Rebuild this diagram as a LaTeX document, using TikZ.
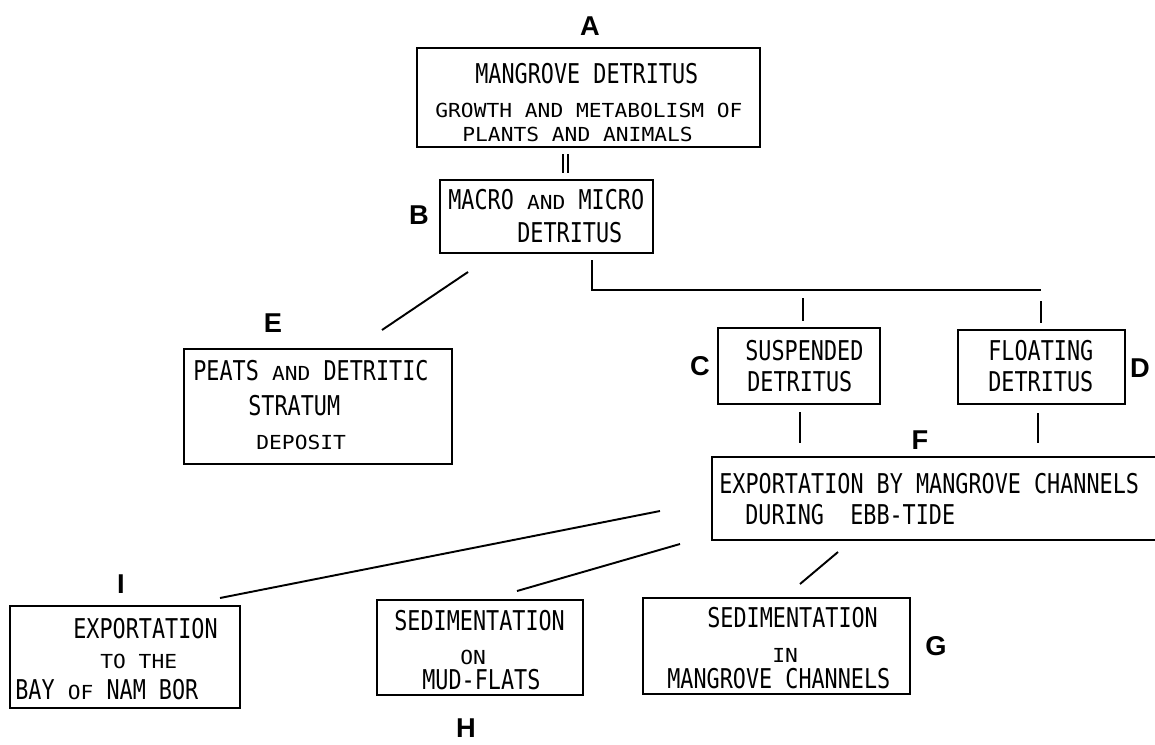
\documentclass[tikz,border=0pt]{standalone}
\usepackage{fontspec}
\usetikzlibrary{fit}
\newfontfamily\monofam[FakeStretch=0.8]{DejaVu Sans Mono}
\newfontfamily\monowide[FakeStretch=1.1]{DejaVu Sans Mono}
\newfontfamily\labfam{Liberation Sans}
\tikzset{
  box/.style={draw, line width=1.1pt, inner sep=0pt},
  conn/.style={line width=1.1pt},
  big/.style={inner sep=0pt, anchor=west, font=\monofam\fontsize{15.5}{15.5}\selectfont},
  med/.style={inner sep=0pt, anchor=west, font=\monowide\fontsize{11}{11}\selectfont},
  lab/.style={inner sep=0pt, font=\labfam\bfseries\fontsize{15.5}{15.5}\selectfont}
}
\newcommand{\sm}[1]{{\monowide\fontsize{11}{11}\selectfont #1}}
\begin{document}
\begin{tikzpicture}[x=0.02cm,y=-0.02cm]
\useasboundingbox (0,0) rectangle (1155,744);
% boxes
\node[box, fit={(417,48)(760,147)}] (A) {};
\node[box, fit={(440,180)(653,253)}] (B) {};
\node[box, fit={(184,349)(452,464)}] (E) {};
\node[box, fit={(718,328)(880,404)}] (C) {};
\node[box, fit={(958,330)(1125,404)}] (D) {};
\node[box, fit={(712,457)(1165,540)}] (F) {};
\node[box, fit={(10,606)(240,708)}] (I) {};
\node[box, fit={(377,600)(583,695)}] (H) {};
\node[box, fit={(643,598)(910,694)}] (G) {};
% labels
\node[lab] (lA) at (590,26) {A};
\node[lab] (lB) at (419,215) {B};
\node[lab] (lC) at (700,366) {C};
\node[lab] (lD) at (1140,368) {D};
\node[lab] (lE) at (273,323) {E};
\node[lab] (lF) at (920,440) {F};
\node[lab] (lG) at (936,646) {G};
\node[lab] (lH) at (466,728) {H};
\node[lab] (lI) at (121,584) {I};
% texts A
\node[big] (tA1) at (475,74) {MANGROVE DETRITUS};
\node[med] (tA2) at (435,110) {GROWTH AND METABOLISM OF};
\node[med] (tA3) at (462,134) {PLANTS AND ANIMALS};
% texts B
\node[big] (tB1) at (448,200) {MACRO \sm{AND} MICRO};
\node[big] (tB2) at (517,233) {DETRITUS};
% texts E
\node[big] (tE1) at (193,371) {PEATS \sm{AND} DETRITIC};
\node[big] (tE2) at (248,406) {STRATUM};
\node[med] (tE3) at (256,442) {DEPOSIT};
% texts C, D
\node[big] (tC1) at (745,351) {SUSPENDED};
\node[big] (tC2) at (747,382) {DETRITUS};
\node[big] (tD1) at (988,351) {FLOATING};
\node[big] (tD2) at (988,382) {DETRITUS};
% texts F
\node[big] (tF1) at (719,484) {EXPORTATION BY MANGROVE CHANNELS};
\node[big] (tF2) at (745,515) {DURING\ \ EBB-TIDE};
% texts I
\node[big] (tI1) at (73,629) {EXPORTATION};
\node[med] (tI2) at (100,661) {TO THE};
\node[big] (tI3) at (15,690) {BAY \sm{OF} NAM BOR};
% texts H
\node[big] (tH1) at (394,621) {SEDIMENTATION};
\node[med] (tH2) at (460,657) {ON};
\node[big] (tH3) at (422,680) {MUD-FLATS};
% texts G
\node[big] (tG1) at (707,618) {SEDIMENTATION};
\node[med] (tG2) at (772,655) {IN};
\node[big] (tG3) at (667,679) {MANGROVE CHANNELS};
% connector coordinates
\coordinate (ab1) at (563,154); \coordinate (ab2) at (563,173);
\coordinate (ab3) at (568,154); \coordinate (ab4) at (568,173);
\coordinate (b0) at (592,260); \coordinate (b1) at (592,290); \coordinate (b2) at (1041,290);
\coordinate (c0) at (803,298); \coordinate (c1) at (803,321);
\coordinate (d0) at (1041,301); \coordinate (d1) at (1041,323);
\coordinate (e0) at (468,272); \coordinate (e1) at (382,330);
\coordinate (cf0) at (800,412); \coordinate (cf1) at (800,443);
\coordinate (df0) at (1038,413); \coordinate (df1) at (1038,443);
\coordinate (i0) at (660,511); \coordinate (i1) at (220,598);
\coordinate (h0) at (680,544); \coordinate (h1) at (517,591);
\coordinate (g0) at (838,552); \coordinate (g1) at (800,584);
% connectors
\draw[line width=0.8pt] (ab1) -- (ab2);
\draw[line width=0.8pt] (ab3) -- (ab4);
\draw[conn] (b0) -- (b1) -- (b2);
\draw[conn] (c0) -- (c1);
\draw[conn] (d0) -- (d1);
\draw[conn] (e0) -- (e1);
\draw[conn] (cf0) -- (cf1);
\draw[conn] (df0) -- (df1);
\draw[conn] (i0) -- (i1);
\draw[conn] (h0) -- (h1);
\draw[conn] (g0) -- (g1);
\end{tikzpicture}
\end{document}
